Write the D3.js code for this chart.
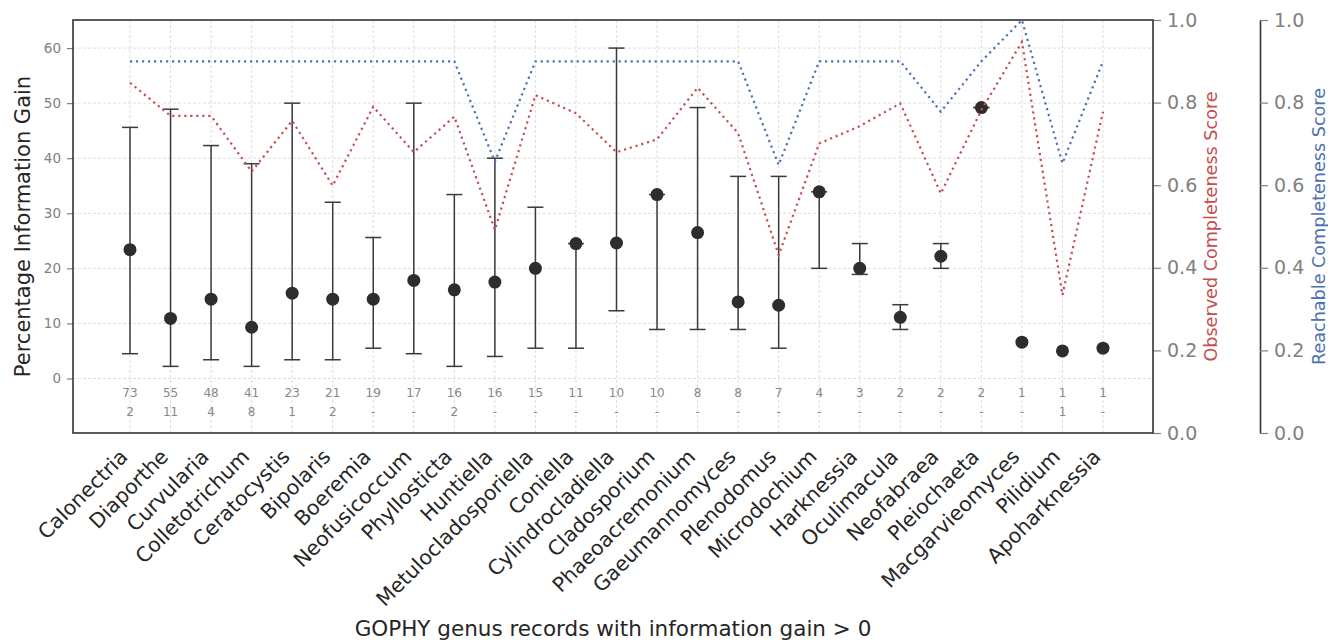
<!DOCTYPE html>
<html>
<head>
<meta charset="utf-8">
<script src="https://cdn.jsdelivr.net/npm/d3@7"></script>
<style>
  body { margin: 0; background: #fff; }
  text { font-family: "DejaVu Sans", sans-serif; }
</style>
</head>
<body>
<script>
"use strict";
// genus names along the x axis
const genera = ["Calonectria", "Diaporthe", "Curvularia", "Colletotrichum", "Ceratocystis",
    "Bipolaris", "Boeremia", "Neofusicoccum", "Phyllosticta", "Huntiella",
    "Metulocladosporiella", "Coniella", "Cylindrocladiella", "Cladosporium", "Phaeoacremonium",
    "Gaeumannomyces", "Plenodomus", "Microdochium", "Harknessia", "Oculimacula",
    "Neofabraea", "Pleiochaeta", "Macgarvieomyces", "Pilidium", "Apoharknessia"];

// percentage information gain: point, lower and upper whisker
const gainPoint = [23.4, 10.9, 14.4, 9.3, 15.5, 14.4, 14.4, 17.8, 16.1, 17.5,
    20.0, 24.5, 24.6, 33.4, 26.5, 13.9, 13.3, 33.9, 20.0, 11.1,
    22.2, 49.2, 6.6, 5.0, 5.5];
const gainLow = [4.5, 2.2, 3.4, 2.2, 3.4, 3.4, 5.5, 4.5, 2.2, 4.0,
    5.5, 5.5, 12.3, 8.9, 8.9, 8.9, 5.5, 20.0, 18.9, 8.9,
    20.0, 49.2, null, null, null];
const gainHigh = [45.6, 48.9, 42.3, 39.0, 50.0, 32.0, 25.6, 50.0, 33.4, 40.0,
    31.1, 24.5, 60.0, 33.4, 49.2, 36.7, 36.7, 33.9, 24.5, 13.4,
    24.5, 49.2, null, null, null];

// completeness scores (right axes)
const observedScore = [0.848, 0.768, 0.768, 0.633, 0.756, 0.599, 0.790, 0.680, 0.766, 0.492,
    0.818, 0.774, 0.680, 0.711, 0.836, 0.726, 0.431, 0.701, 0.743, 0.798,
    0.580, 0.782, 0.947, 0.334, 0.778];
const reachableScore = [0.9, 0.9, 0.9, 0.9, 0.9, 0.9, 0.9, 0.9, 0.9, 0.657,
    0.9, 0.9, 0.9, 0.9, 0.9, 0.9, 0.649, 0.9, 0.9, 0.9,
    0.778, 0.9, 1.0, 0.653, 0.9];

// record counts printed under the points
const recordCounts = ["73", "55", "48", "41", "23", "21", "19", "17", "16", "16",
    "15", "11", "10", "10", "8", "8", "7", "4", "3", "2", "2", "2", "1", "1", "1"];
const secondCounts = ["2", "11", "4", "8", "1", "2", "-", "-", "2", "-",
    "-", "-", "-", "-", "-", "-", "-", "-", "-", "-", "-", "-", "-", "1", "-"];

const leftTicks = [0, 10, 20, 30, 40, 50, 60];
const rightTicks = [0, 0.2, 0.4, 0.6, 0.8, 1.0];

// frame of the plot area
const frame = { left: 73, right: 1153, top: 20, bottom: 433 };
const red = "#c44e52";
const blue = "#4c72b0";
const tickGrey = "#808080";

const svg = d3.select("body")
    .append("svg")
    .attr("width", 1328)
    .attr("height", 641);

const x = d3.scalePoint()
    .domain(genera)
    .range([130, 1103]);

const yLeft = d3.scaleLinear()
    .domain([-9.9, 65.1])
    .range([frame.bottom, frame.top]);

const yRight = d3.scaleLinear()
    .domain([0, 1])
    .range([frame.bottom, frame.top]);

// grid
const grid = svg.append("g")
    .attr("stroke", "#d6d6d6")
    .attr("stroke-width", 0.8)
    .attr("stroke-dasharray", "3,2");
grid.selectAll(".hgrid")
    .data(leftTicks)
    .enter().append("line")
    .attr("x1", frame.left).attr("x2", frame.right)
    .attr("y1", d => yLeft(d)).attr("y2", d => yLeft(d));
grid.selectAll(".vgrid")
    .data(genera)
    .enter().append("line")
    .attr("x1", d => x(d)).attr("x2", d => x(d))
    .attr("y1", frame.top).attr("y2", frame.bottom);

// left axis
const leftAxis = svg.append("g")
    .attr("transform", `translate(${frame.left},0)`)
    .call(d3.axisLeft(yLeft).tickValues(leftTicks).tickSize(6).tickPadding(6));
leftAxis.select(".domain").remove();
leftAxis.selectAll("line").attr("stroke", tickGrey).attr("stroke-width", 1.2);
leftAxis.selectAll("text")
    .attr("fill", tickGrey)
    .style("font-size", "13.5px");

// right axes
function rightAxis(xPos, keepDomain) {
    const g = svg.append("g")
        .attr("transform", `translate(${xPos},0)`)
        .call(d3.axisRight(yRight).tickValues(rightTicks).tickFormat(d3.format(".1f"))
            .tickSize(8).tickPadding(6).tickSizeOuter(0));
    if (keepDomain) {
        g.select(".domain").attr("stroke", "#333").attr("stroke-width", 1.6);
    } else {
        g.select(".domain").remove();
    }
    g.selectAll("line").attr("stroke", tickGrey).attr("stroke-width", 1.2);
    g.selectAll("text")
        .attr("fill", tickGrey)
        .style("font-size", "19px");
    return g;
}
rightAxis(frame.right, false);
rightAxis(1260, true);

// error bars
const bars = svg.append("g")
    .attr("stroke", "#3a3a3a")
    .attr("stroke-width", 1.5);
genera.forEach((g, i) => {
    if (gainLow[i] === null) return;
    const cx = x(g);
    bars.append("line")
        .attr("x1", cx).attr("x2", cx)
        .attr("y1", yLeft(gainLow[i])).attr("y2", yLeft(gainHigh[i]));
    [gainLow[i], gainHigh[i]].forEach(v => {
        bars.append("line")
            .attr("x1", cx - 8).attr("x2", cx + 8)
            .attr("y1", yLeft(v)).attr("y2", yLeft(v));
    });
});

// points
svg.selectAll(".dot")
    .data(genera)
    .enter().append("circle")
    .attr("class", "dot")
    .attr("cx", d => x(d))
    .attr("cy", (d, i) => yLeft(gainPoint[i]))
    .attr("r", 6.5)
    .attr("fill", "#2d2d2d");

// completeness lines
function scoreLine(values, colour) {
    const line = d3.line()
        .x((d, i) => x(genera[i]))
        .y(d => yRight(d));
    svg.append("path")
        .datum(values)
        .attr("d", line)
        .attr("fill", "none")
        .attr("stroke", colour)
        .attr("stroke-width", 2.2)
        .attr("stroke-dasharray", "2.2,3.8");
}
scoreLine(reachableScore, blue);
scoreLine(observedScore, red);

// count labels
const counts = svg.append("g")
    .attr("fill", "#888")
    .attr("text-anchor", "middle")
    .style("font-size", "12px");
genera.forEach((g, i) => {
    counts.append("text").attr("x", x(g)).attr("y", 397).text(recordCounts[i]);
    counts.append("text").attr("x", x(g)).attr("y", 416).text(secondCounts[i]);
});

// frame
svg.append("rect")
    .attr("x", frame.left).attr("y", frame.top)
    .attr("width", frame.right - frame.left)
    .attr("height", frame.bottom - frame.top)
    .attr("fill", "none")
    .attr("stroke", "#333")
    .attr("stroke-width", 1.6);

// x tick labels
svg.append("g")
    .selectAll("text")
    .data(genera)
    .enter().append("text")
    .attr("transform", d => `translate(${x(d) - 1},458) rotate(-45)`)
    .attr("text-anchor", "end")
    .attr("fill", "#262626")
    .style("font-size", "20.5px")
    .text(d => d);

// axis titles
svg.append("text")
    .attr("x", (frame.left + frame.right) / 2)
    .attr("y", 636)
    .attr("text-anchor", "middle")
    .attr("fill", "#262626")
    .style("font-size", "21.5px")
    .text("GOPHY genus records with information gain > 0");

svg.append("text")
    .attr("transform", `translate(30,${(frame.top + frame.bottom) / 2}) rotate(-90)`)
    .attr("text-anchor", "middle")
    .attr("fill", "#262626")
    .style("font-size", "21px")
    .text("Percentage Information Gain");

svg.append("text")
    .attr("transform", `translate(1217,${(frame.top + frame.bottom) / 2}) rotate(-90)`)
    .attr("text-anchor", "middle")
    .attr("fill", red)
    .style("font-size", "17.6px")
    .text("Observed Completeness Score");

svg.append("text")
    .attr("transform", `translate(1325,${(frame.top + frame.bottom) / 2}) rotate(-90)`)
    .attr("text-anchor", "middle")
    .attr("fill", blue)
    .style("font-size", "17.6px")
    .text("Reachable Completeness Score");
</script>
</body>
</html>
